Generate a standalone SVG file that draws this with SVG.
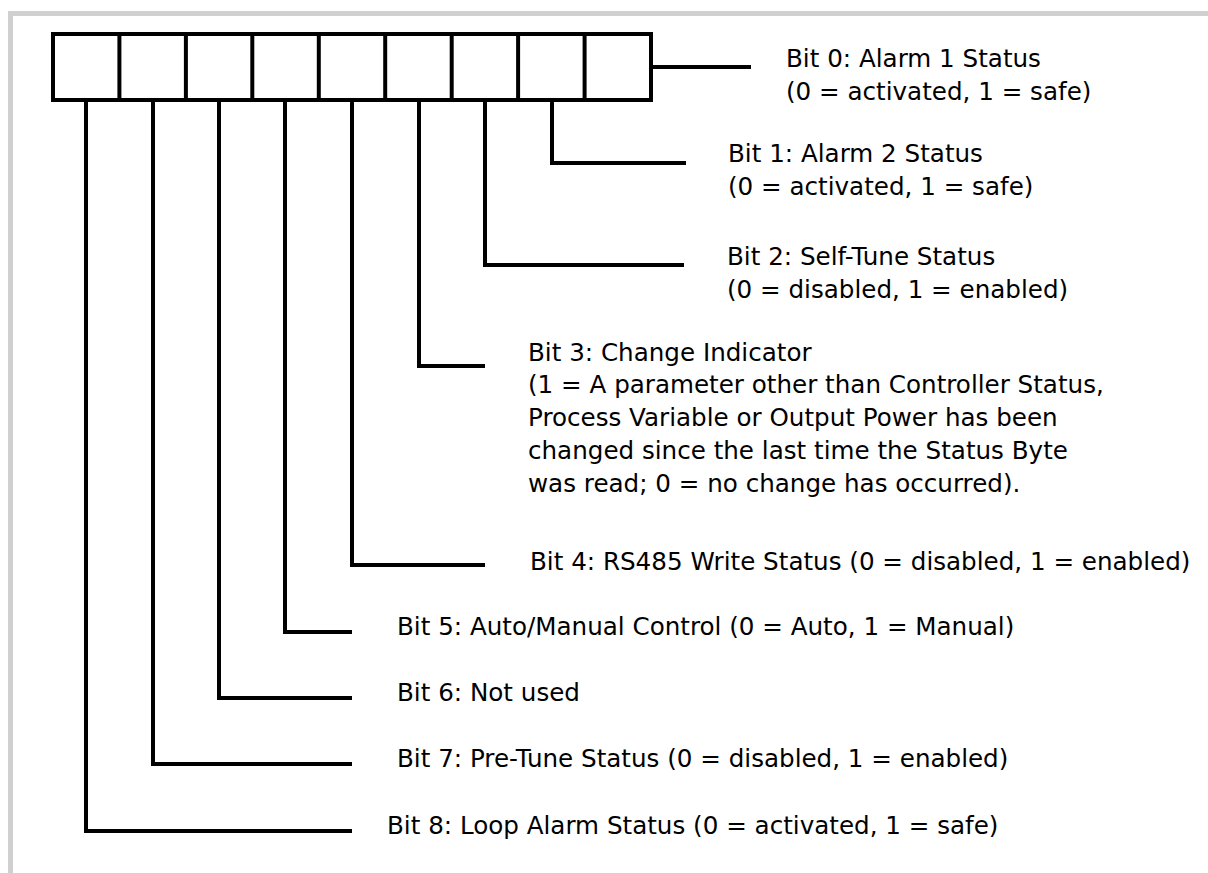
<svg xmlns="http://www.w3.org/2000/svg" width="1208" height="873" viewBox="0 0 1208 873">
<style>
.bg{fill:#ffffff}
.frame{fill:none;stroke:#d0d0d0;stroke-width:5}
.box{fill:#ffffff;stroke:#000;stroke-width:4}
.div{stroke:#000;stroke-width:4}
.con{fill:none;stroke:#000;stroke-width:4;stroke-linejoin:miter;stroke-linecap:butt}
.lbl{font-family:"DejaVu Sans","Liberation Sans",sans-serif;font-size:24.6px;fill:#000}
</style>
<rect class="bg" x="0" y="0" width="1208" height="873"/>
<path class="frame" d="M10.5,880 V13.5 H1215"/>
<g id="register">
<rect class="box" x="53" y="34" width="598" height="66"/>
<line class="div" x1="119.4" y1="34" x2="119.4" y2="100"/>
<line class="div" x1="185.9" y1="34" x2="185.9" y2="100"/>
<line class="div" x1="252.3" y1="34" x2="252.3" y2="100"/>
<line class="div" x1="318.8" y1="34" x2="318.8" y2="100"/>
<line class="div" x1="385.2" y1="34" x2="385.2" y2="100"/>
<line class="div" x1="451.7" y1="34" x2="451.7" y2="100"/>
<line class="div" x1="518.1" y1="34" x2="518.1" y2="100"/>
<line class="div" x1="584.6" y1="34" x2="584.6" y2="100"/>
</g>
<g id="connectors">
<path class="con" d="M651,67 H751"/>
<path class="con" d="M552,100 V163 H686"/>
<path class="con" d="M485,100 V265 H684"/>
<path class="con" d="M419,100 V366 H485"/>
<path class="con" d="M352,100 V565 H485"/>
<path class="con" d="M285,100 V632 H352"/>
<path class="con" d="M219,100 V698 H352"/>
<path class="con" d="M153,100 V764 H352"/>
<path class="con" d="M86,100 V831 H352"/>
</g>
<g id="bit0"><text class="lbl" x="786" y="67">Bit 0: Alarm 1 Status</text><text class="lbl" x="786" y="100">(0 = activated, 1 = safe)</text></g>
<g id="bit1"><text class="lbl" x="728" y="162">Bit 1: Alarm 2 Status</text><text class="lbl" x="728" y="195">(0 = activated, 1 = safe)</text></g>
<g id="bit2"><text class="lbl" x="727" y="265">Bit 2: Self-Tune Status</text><text class="lbl" x="727" y="298">(0 = disabled, 1 = enabled)</text></g>
<g id="bit3">
<text class="lbl" x="528" y="361">Bit 3: Change Indicator</text>
<text class="lbl" x="528" y="393">(1 = A parameter other than Controller Status,</text>
<text class="lbl" x="528" y="426">Process Variable or Output Power has been</text>
<text class="lbl" x="528" y="459">changed since the last time the Status Byte</text>
<text class="lbl" x="528" y="492">was read; 0 = no change has occurred).</text>
</g>
<g id="bit4"><text class="lbl" x="530" y="570">Bit 4: RS485 Write Status (0 = disabled, 1 = enabled)</text></g>
<g id="bit5"><text class="lbl" x="397" y="635">Bit 5: Auto/Manual Control (0 = Auto, 1 = Manual)</text></g>
<g id="bit6"><text class="lbl" x="397" y="701">Bit 6: Not used</text></g>
<g id="bit7"><text class="lbl" x="397" y="767">Bit 7: Pre-Tune Status (0 = disabled, 1 = enabled)</text></g>
<g id="bit8"><text class="lbl" x="387" y="834">Bit 8: Loop Alarm Status (0 = activated, 1 = safe)</text></g>
</svg>
